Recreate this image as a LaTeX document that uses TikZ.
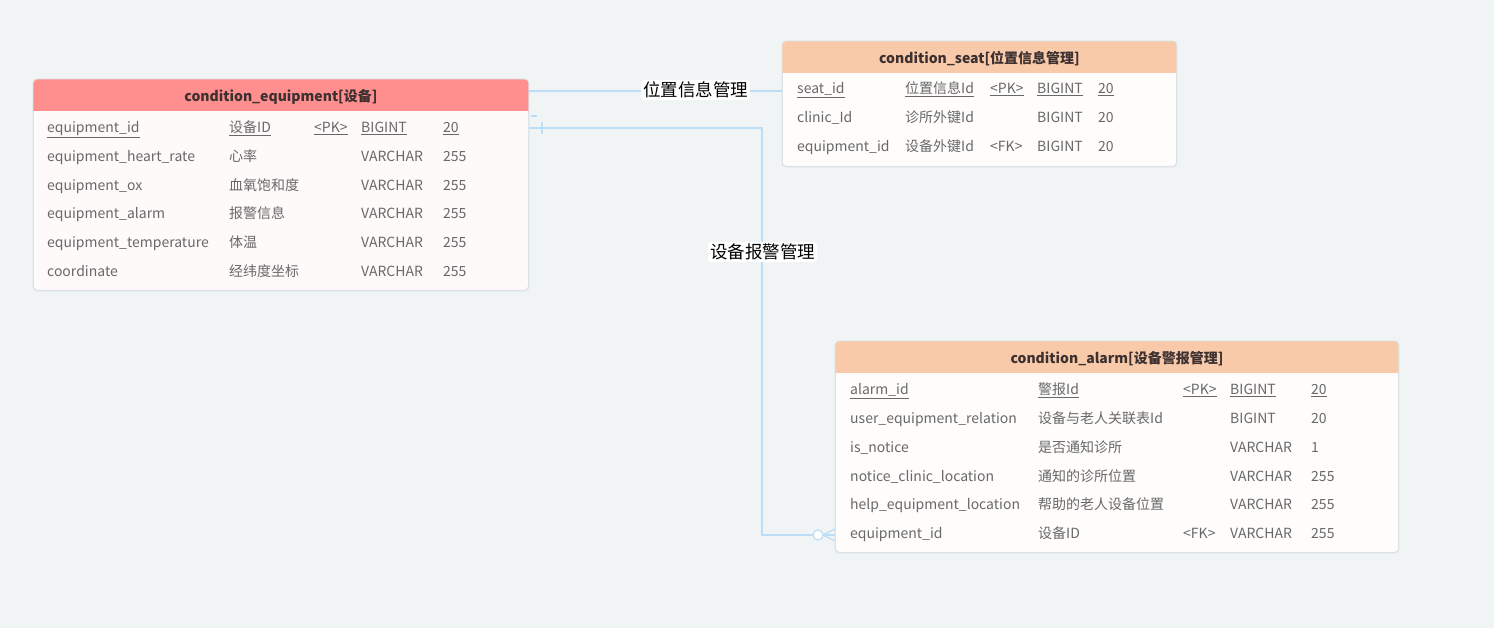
\documentclass[tikz,border=0pt]{standalone}
\usepackage{fontspec}
\setmainfont{Noto Sans CJK SC}
\usetikzlibrary{calc}

\definecolor{canvas}{RGB}{240,244,245}
\definecolor{frame}{RGB}{220,227,232}
\definecolor{eqhead}{RGB}{255,142,142}
\definecolor{pchead}{RGB}{248,202,170}
\definecolor{eqbody}{RGB}{255,250,250}
\definecolor{pcbody}{RGB}{255,253,252}
\definecolor{wire}{RGB}{187,221,245}
\definecolor{celltext}{RGB}{104,104,104}
\definecolor{titletext}{RGB}{60,48,48}

\tikzset{
  tbl/.style={draw=frame, line width=0.9pt, rounded corners=4pt, inner sep=0pt, anchor=north west},
  tbltitle/.style={font=\fontsize{14}{16}\selectfont\bfseries, text=titletext, inner sep=0pt},
  cell/.style={font=\fontsize{14}{16}\selectfont, text=celltext, anchor=west, inner sep=0pt,
               text height=11pt, text depth=4pt, yshift=-2pt},
  wireline/.style={draw=wire, line width=1.2pt},
  rel/.style={fill=white, rounded corners=3pt, inner sep=2pt, text=black,
              font=\fontsize{17.5}{20}\selectfont},
}

% one table row: prefix, y, then five cells placed at \ca..\ce
\newcommand\tabrow[7]{%
  \node[cell] (#1-a) at (\ca,#2) {#3};
  \node[cell] (#1-b) at (\cb,#2) {#4};
  \node[cell] (#1-c) at (\cc,#2) {#5};
  \node[cell] (#1-d) at (\cd,#2) {#6};
  \node[cell] (#1-e) at (\ce,#2) {#7};
}
\newcommand\pk[1]{\underline{#1}}

% table frame with a coloured header band
\newcommand\tableframe[7]{% name, x, y, width, height, body colour, head colour
  \node[tbl, fill=#6, minimum width=#4pt, minimum height=#5pt] (#1) at (#2,#3) {};
  \begin{scope}
    \clip[rounded corners=4pt] (#1.north west) rectangle (#1.south east);
    \fill[#7] (#1.north west) rectangle ($(#1.north east)+(0,32)$);
  \end{scope}
  \draw[draw=frame, line width=0.9pt, rounded corners=4pt] (#1.north west) rectangle (#1.south east);
}

\begin{document}
\begin{tikzpicture}[x=1pt, y=-1pt]
  \fill[canvas] (0,0) rectangle (1494,628);
  \useasboundingbox (0,0) rectangle (1494,628);

  % ---------- condition_equipment ----------
  \tableframe{equip}{33}{79}{495}{211}{eqbody}{eqhead}
  \node[tbltitle] (equip-title) at ($(equip.north)+(0,17.5)$) {condition\_equipment[设备]};
  \def\ca{47}\def\cb{229}\def\cc{314}\def\cd{361}\def\ce{443}
  \tabrow{eq1}{127}{\pk{equipment\_id}}{\pk{设备ID}}{\pk{<PK>}}{\pk{BIGINT}}{\pk{20}}
  \tabrow{eq2}{156}{equipment\_heart\_rate}{心率}{}{VARCHAR}{255}
  \tabrow{eq3}{185}{equipment\_ox}{血氧饱和度}{}{VARCHAR}{255}
  \tabrow{eq4}{213}{equipment\_alarm}{报警信息}{}{VARCHAR}{255}
  \tabrow{eq5}{242}{equipment\_temperature}{体温}{}{VARCHAR}{255}
  \tabrow{eq6}{271}{coordinate}{经纬度坐标}{}{VARCHAR}{255}

  % ---------- condition_seat ----------
  \tableframe{seat}{782}{41}{394}{125}{pcbody}{pchead}
  \node[tbltitle] (seat-title) at ($(seat.north)+(0,18)$) {condition\_seat[位置信息管理]};
  \def\ca{797}\def\cb{905}\def\cc{990}\def\cd{1037}\def\ce{1098}
  \tabrow{st1}{88}{\pk{seat\_id}}{\pk{位置信息Id}}{\pk{<PK>}}{\pk{BIGINT}}{\pk{20}}
  \tabrow{st2}{117}{clinic\_Id}{诊所外键Id}{}{BIGINT}{20}
  \tabrow{st3}{146}{equipment\_id}{设备外键Id}{<FK>}{BIGINT}{20}

  % ---------- condition_alarm ----------
  \tableframe{alarm}{835}{341}{563}{211}{pcbody}{pchead}
  \node[tbltitle] (alarm-title) at ($(alarm.north)+(0,17.5)$) {condition\_alarm[设备警报管理]};
  \def\ca{850}\def\cb{1038}\def\cc{1183}\def\cd{1230}\def\ce{1311}
  \tabrow{al1}{389}{\pk{alarm\_id}}{\pk{警报Id}}{\pk{<PK>}}{\pk{BIGINT}}{\pk{20}}
  \tabrow{al2}{418}{user\_equipment\_relation}{设备与老人关联表Id}{}{BIGINT}{20}
  \tabrow{al3}{447}{is\_notice}{是否通知诊所}{}{VARCHAR}{1}
  \tabrow{al4}{476}{notice\_clinic\_location}{通知的诊所位置}{}{VARCHAR}{255}
  \tabrow{al5}{504}{help\_equipment\_location}{帮助的老人设备位置}{}{VARCHAR}{255}
  \tabrow{al6}{533}{equipment\_id}{设备ID}{<FK>}{VARCHAR}{255}

  % ---------- relation: equipment -- seat ----------
  \coordinate (r1s) at (equip.east |- 0,91);
  \coordinate (r1t) at (seat.west |- 0,91);
  \draw[wireline] (r1s) -- (r1t);
  \node[rel] (r1label) at (695.5,90) {位置信息管理};

  % ---------- relation: equipment -- alarm ----------
  \coordinate (r2s) at (equip.east |- 0,128);
  \coordinate (r2a) at (762,128);
  \coordinate (r2b) at (762,535);
  \coordinate (r2t) at (alarm.west |- 0,535);
  \draw[wireline] (r2s) -- (r2a) -- (r2b) -- (r2t);
  % "one" mark at the equipment end
  \draw[wireline] ($(r2s)+(13,-6)$) -- ($(r2s)+(13,6)$);
  \draw[wireline] ($(r2s)+(2,-12)$) -- ($(r2s)+(8,-12)$);
  % "zero or many" mark at the alarm end
  \draw[wireline] ($(r2t)+(-12,0)$) -- ($(r2t)+(0,-6)$);
  \draw[wireline] ($(r2t)+(-12,0)$) -- ($(r2t)+(0,6)$);
  \draw[wireline] ($(r2t)+(-12,0)$) -- (r2t);
  \node[draw=wire, line width=1.2pt, fill=white, circle, minimum size=10pt, inner sep=0pt] (r2ring) at ($(r2t)+(-17,0)$) {};
  \node[rel] (r2label) at (762.5,252) {设备报警管理};
\end{tikzpicture}
\end{document}
